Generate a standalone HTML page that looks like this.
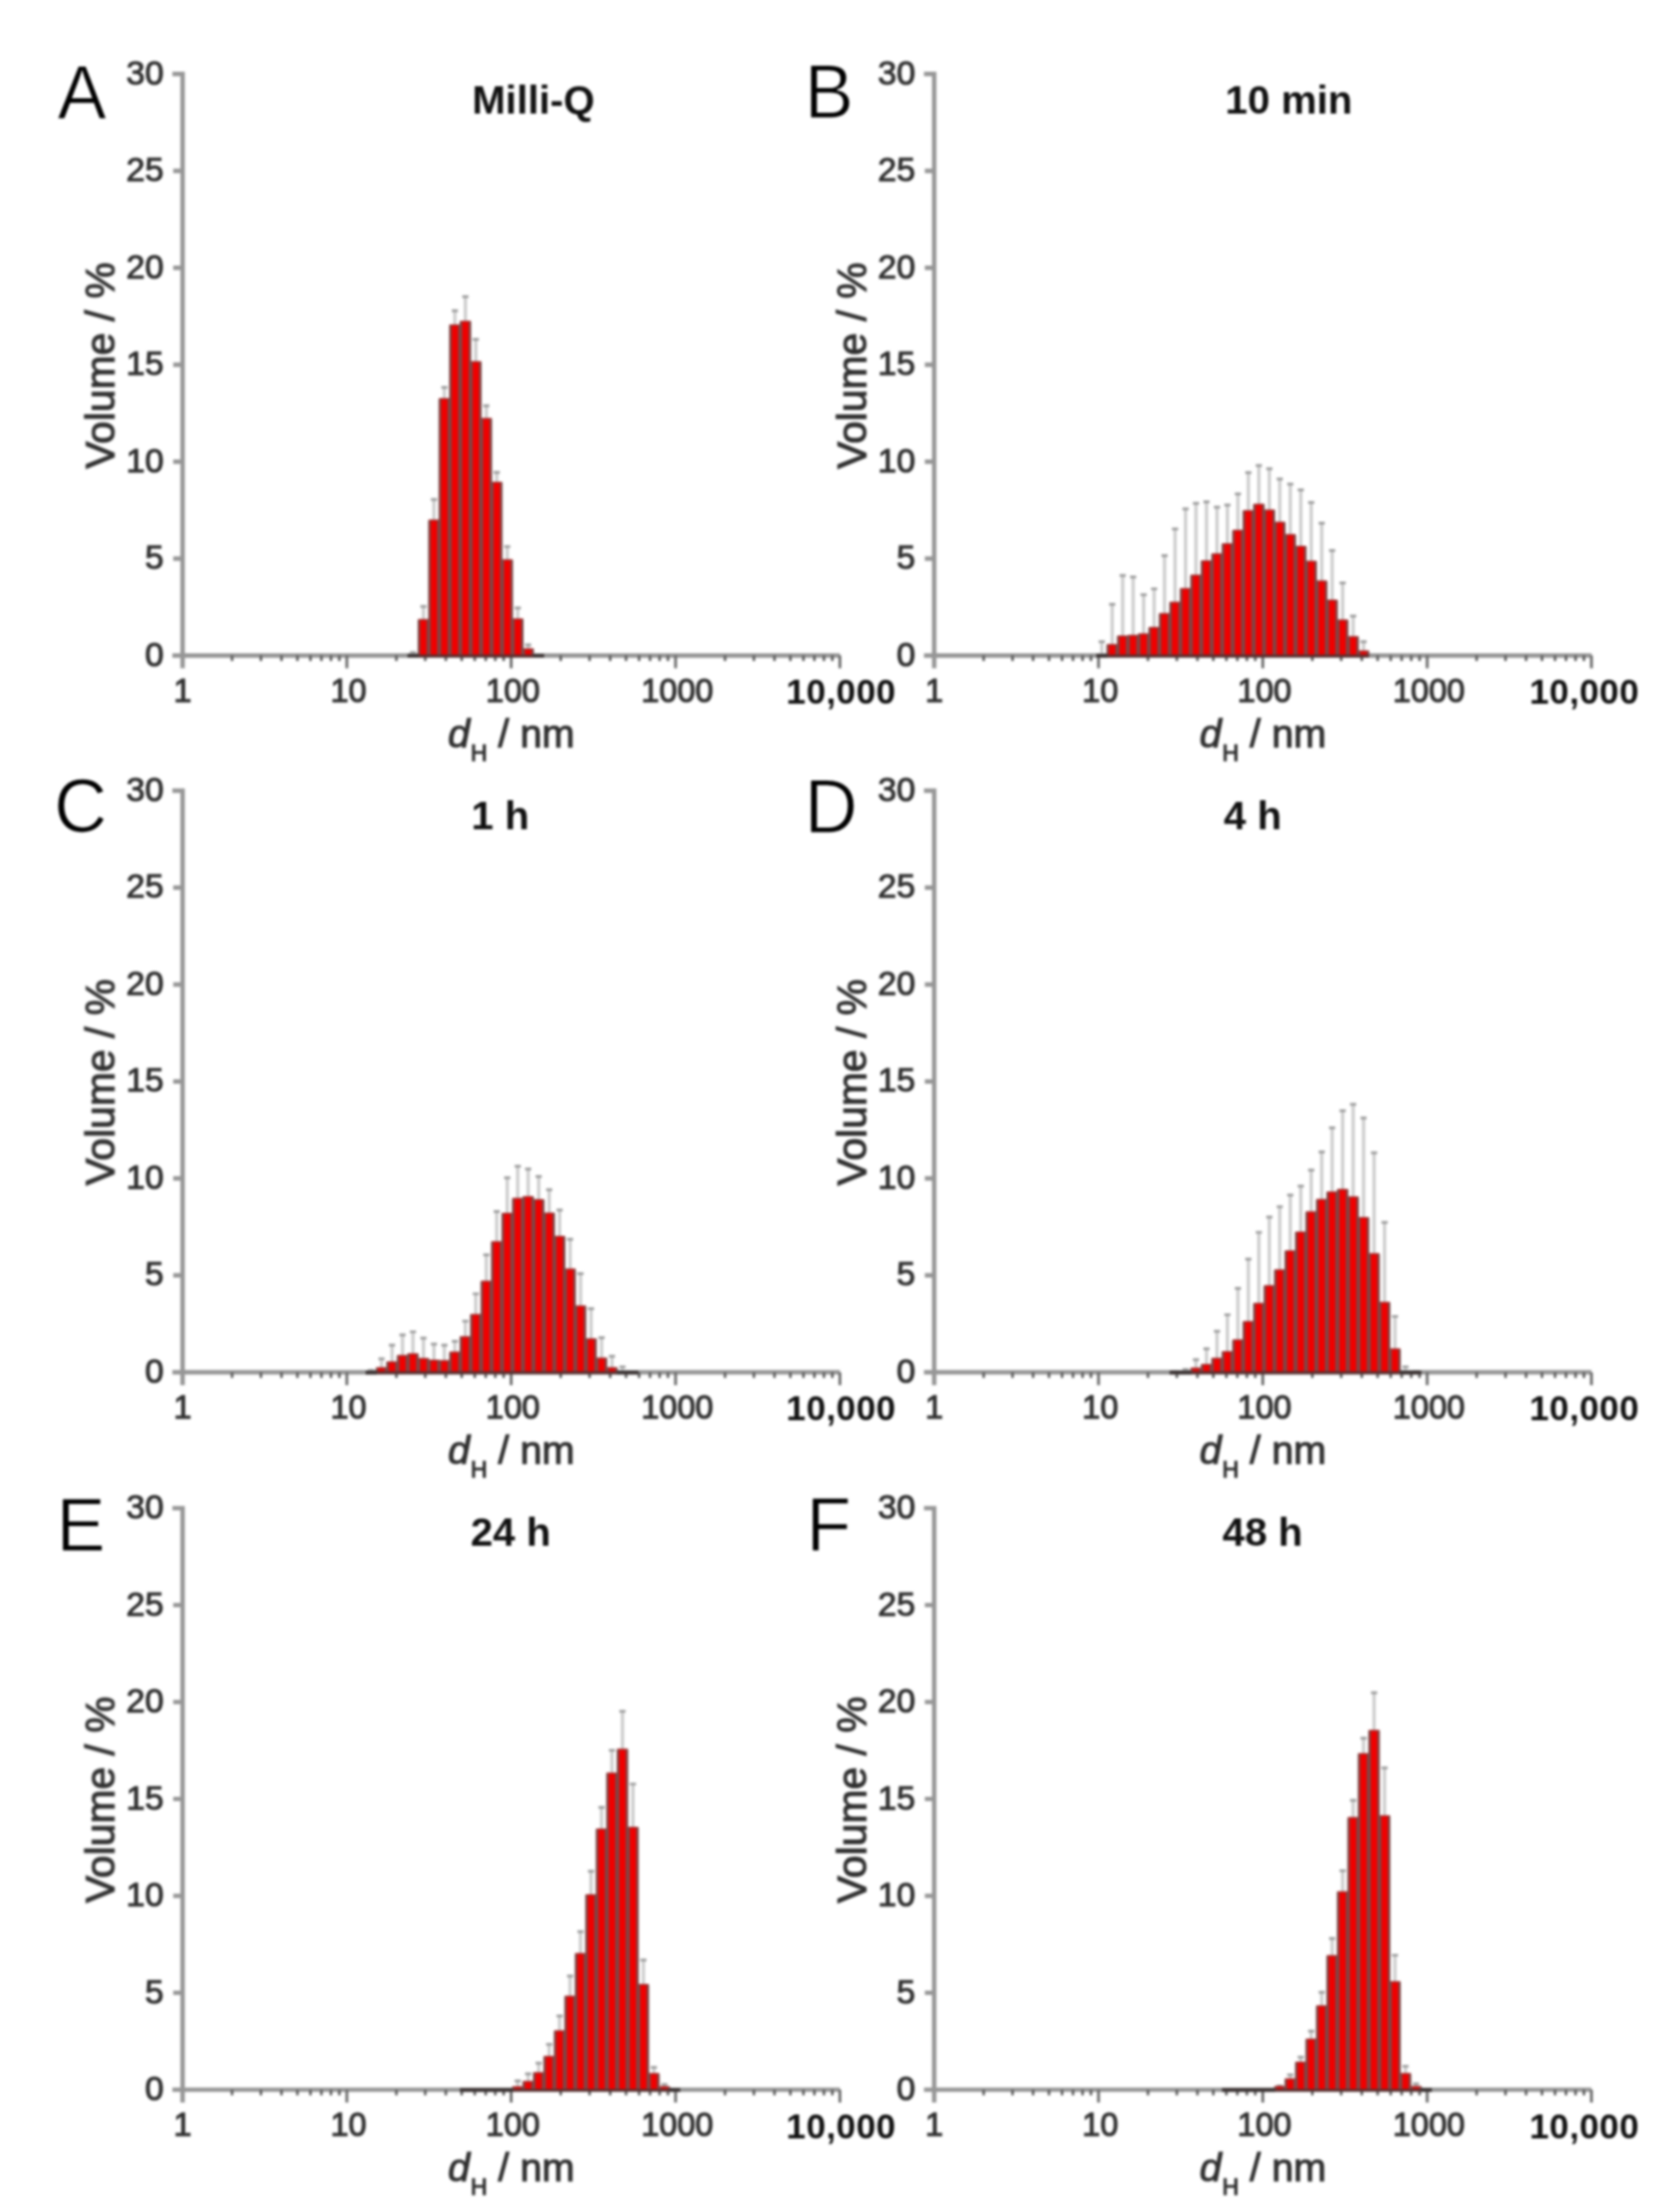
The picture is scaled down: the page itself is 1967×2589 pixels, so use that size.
<!DOCTYPE html>
<html><head><meta charset="utf-8"><title>DLS volume distributions</title>
<style>
html,body{margin:0;padding:0;background:#fff;}
body{width:1967px;height:2589px;overflow:hidden;}
svg{display:block;}
.blur{filter:blur(1.5px);}
text{stroke-width:1.2px;}
</style></head><body>
<svg width="1967" height="2589" viewBox="0 0 1967 2589" font-family="'Liberation Sans', Arial, sans-serif">
<g class="blur">
<g id="panelA">
<path d="M483.5 765.3V764.2M495.8 725.8V710.2M508.1 609.4V584.9M520.3 467.1V453.7M532.6 380.8V363.8M544.9 376.5V347.4M557.1 423.9V397.4M569.4 490.4V475.2M581.6 565.1V553.1M593.9 655.9V640.0M606.2 725.2V711.8M618.4 760.1V755.1" stroke="#cccccc" stroke-width="3.8" fill="none"/>
<path d="M479.9 764.2H487.1M492.2 710.2H499.4M504.5 584.9H511.7M516.7 453.7H523.9M529.0 363.8H536.2M541.3 347.4H548.5M553.5 397.4H560.7M565.8 475.2H573.0M578.0 553.1H585.2M590.3 640.0H597.5M602.6 711.8H609.8M614.8 755.1H622.0" stroke="#9e9e9e" stroke-width="3.2" fill="none"/>
<path d="M201.8 86.6H213.8V782.6M201.8 767.6H983.4M202.8 654.1H213.8M202.8 540.6H213.8M202.8 427.1H213.8M202.8 313.6H213.8M202.8 200.1H213.8" stroke="#969696" stroke-width="5.2" fill="none"/>
<path d="M406.1 767.6V782.6M598.5 767.6V782.6M791.0 767.6V782.6M983.4 767.6V782.6" stroke="#686868" stroke-width="3.2" fill="none"/>
<path d="M271.7 767.6V774.1M305.5 767.6V774.1M329.6 767.6V774.1M348.2 767.6V774.1M363.5 767.6V774.1M376.3 767.6V774.1M387.5 767.6V774.1M397.3 767.6V774.1M464.1 767.6V774.1M497.9 767.6V774.1M522.0 767.6V774.1M540.6 767.6V774.1M555.9 767.6V774.1M568.7 767.6V774.1M579.9 767.6V774.1M589.7 767.6V774.1M656.5 767.6V774.1M690.3 767.6V774.1M714.4 767.6V774.1M733.0 767.6V774.1M748.3 767.6V774.1M761.1 767.6V774.1M772.3 767.6V774.1M782.1 767.6V774.1M848.9 767.6V774.1M882.7 767.6V774.1M906.8 767.6V774.1M925.4 767.6V774.1M940.7 767.6V774.1M953.5 767.6V774.1M964.7 767.6V774.1M974.5 767.6V774.1" stroke="#5a5a5a" stroke-width="3" fill="none"/>
<g fill="#f00000"><rect x="490.4" y="725.8" width="10.8" height="42.8"/><rect x="502.7" y="609.4" width="10.8" height="159.2"/><rect x="514.9" y="467.1" width="10.8" height="301.5"/><rect x="527.2" y="380.8" width="10.8" height="387.8"/><rect x="539.5" y="376.5" width="10.8" height="392.1"/><rect x="551.7" y="423.9" width="10.8" height="344.7"/><rect x="564.0" y="490.4" width="10.8" height="278.2"/><rect x="576.2" y="565.1" width="10.8" height="203.5"/><rect x="588.5" y="655.9" width="10.8" height="112.7"/><rect x="600.8" y="725.2" width="10.8" height="43.4"/><rect x="613.0" y="760.1" width="10.8" height="8.5"/></g>
<path d="M489.5 725.8H502.1M501.8 609.4H514.4M514.0 467.1H526.6M526.3 380.8H538.9M538.6 376.5H551.2M550.8 423.9H563.4M563.1 490.4H575.7M575.3 565.1H587.9M587.6 655.9H600.2M599.9 725.2H612.5M612.1 760.1H624.7" stroke="#a82020" stroke-width="2.2" fill="none" opacity="0.85"/>
<path d="M490.5 768.6V725.8M501.1 768.6V725.8M502.8 768.6V609.4M513.4 768.6V609.4M515.0 768.6V467.1M525.6 768.6V467.1M527.3 768.6V380.8M537.9 768.6V380.8M539.6 768.6V376.5M550.2 768.6V376.5M551.8 768.6V423.9M562.4 768.6V423.9M564.1 768.6V490.4M574.7 768.6V490.4M576.3 768.6V565.1M586.9 768.6V565.1M588.6 768.6V655.9M599.2 768.6V655.9M600.9 768.6V725.2M611.5 768.6V725.2M613.1 768.6V760.1M623.7 768.6V760.1" stroke="#7e4646" stroke-width="3" fill="none"/>
<path d="M489.4 768.2H502.2M501.7 768.2H514.5M513.9 768.2H526.7M526.2 768.2H539.0M538.5 768.2H551.3M550.7 768.2H563.5M563.0 768.2H575.8M575.2 768.2H588.0M587.5 768.2H600.3M599.8 768.2H612.6M612.0 768.2H624.8" stroke="#5a3030" stroke-width="3.4" fill="none"/>
<path d="M477.1 767.9H489.9M624.3 767.9H637.1" stroke="#3c3434" stroke-width="4.4" fill="none"/>
<text x="191.8" y="779.6" font-size="39.5" fill="#303030" stroke="#303030" text-anchor="end">0</text>
<text x="191.8" y="666.1" font-size="39.5" fill="#303030" stroke="#303030" text-anchor="end">5</text>
<text x="191.8" y="552.6" font-size="39.5" fill="#303030" stroke="#303030" text-anchor="end">10</text>
<text x="191.8" y="439.1" font-size="39.5" fill="#303030" stroke="#303030" text-anchor="end">15</text>
<text x="191.8" y="325.6" font-size="39.5" fill="#303030" stroke="#303030" text-anchor="end">20</text>
<text x="191.8" y="212.1" font-size="39.5" fill="#303030" stroke="#303030" text-anchor="end">25</text>
<text x="191.8" y="98.6" font-size="39.5" fill="#303030" stroke="#303030" text-anchor="end">30</text>
<text x="213.8" y="821.6" font-size="38" fill="#303030" stroke="#303030" text-anchor="middle">1</text>
<text x="408.1" y="821.6" font-size="38" fill="#303030" stroke="#303030" text-anchor="middle">10</text>
<text x="600.5" y="821.6" font-size="38" fill="#303030" stroke="#303030" text-anchor="middle">100</text>
<text x="793.0" y="821.6" font-size="38" fill="#303030" stroke="#303030" text-anchor="middle">1000</text>
<text x="984.8" y="824.1" font-size="41" letter-spacing="0.5" font-weight="bold" fill="#111" text-anchor="middle">10,000</text>
<text x="524.5" y="874.6" font-size="46" fill="#303030" stroke="#303030"><tspan font-style="italic">d</tspan><tspan font-size="27" dy="16" dx="1">H</tspan><tspan dy="-16"> / nm</tspan></text>
<text transform="translate(133.8 428.1) rotate(-90)" font-size="47.8" fill="#303030" stroke="#303030" text-anchor="middle">Volume / %</text>
<text x="624.5" y="133.3" font-size="47" font-weight="bold" fill="#111" text-anchor="middle">Milli-Q</text>
<text class="let" transform="translate(67.3 138.6) scale(0.968 1)" font-size="89" fill="#000" stroke="#fff" stroke-width="1">A</text>
</g>
<g id="panelB">
<path d="M1290.0 765.3V751.3M1302.2 755.1V707.7M1314.5 745.1V673.8M1326.7 744.4V675.7M1339.0 742.6V696.3M1351.3 735.1V689.5M1363.5 718.8V650.7M1375.8 705.6V619.4M1388.1 689.5V595.8M1400.3 673.8V589.4M1412.6 657.1V587.6M1424.9 648.9V593.9M1437.1 637.1V591.4M1449.4 621.4V578.3M1461.6 598.3V553.3M1473.9 590.8V545.1M1486.2 597.6V548.8M1498.4 611.9V560.8M1510.7 626.4V566.9M1523.0 640.0V573.7M1535.2 657.5V588.3M1547.5 680.7V612.6M1559.7 703.1V644.6M1572.0 726.3V682.7M1584.3 745.8V721.3M1596.5 762.6V751.3" stroke="#cccccc" stroke-width="3.8" fill="none"/>
<path d="M1286.4 751.3H1293.6M1298.6 707.7H1305.8M1310.9 673.8H1318.1M1323.1 675.7H1330.3M1335.4 696.3H1342.6M1347.7 689.5H1354.9M1359.9 650.7H1367.1M1372.2 619.4H1379.4M1384.5 595.8H1391.7M1396.7 589.4H1403.9M1409.0 587.6H1416.2M1421.3 593.9H1428.5M1433.5 591.4H1440.7M1445.8 578.3H1453.0M1458.0 553.3H1465.2M1470.3 545.1H1477.5M1482.6 548.8H1489.8M1494.8 560.8H1502.0M1507.1 566.9H1514.3M1519.4 573.7H1526.6M1531.6 588.3H1538.8M1543.9 612.6H1551.1M1556.1 644.6H1563.3M1568.4 682.7H1575.6M1580.7 721.3H1587.9M1592.9 751.3H1600.1" stroke="#9e9e9e" stroke-width="3.2" fill="none"/>
<path d="M1081.8 86.6H1093.8V782.6M1081.8 767.6H1863.3M1082.8 654.1H1093.8M1082.8 540.6H1093.8M1082.8 427.1H1093.8M1082.8 313.6H1093.8M1082.8 200.1H1093.8" stroke="#969696" stroke-width="5.2" fill="none"/>
<path d="M1286.2 767.6V782.6M1478.5 767.6V782.6M1671.0 767.6V782.6M1863.3 767.6V782.6" stroke="#686868" stroke-width="3.2" fill="none"/>
<path d="M1151.7 767.6V774.1M1185.5 767.6V774.1M1209.6 767.6V774.1M1228.2 767.6V774.1M1243.5 767.6V774.1M1256.3 767.6V774.1M1267.5 767.6V774.1M1277.3 767.6V774.1M1344.1 767.6V774.1M1377.9 767.6V774.1M1402.0 767.6V774.1M1420.6 767.6V774.1M1435.9 767.6V774.1M1448.7 767.6V774.1M1459.9 767.6V774.1M1469.7 767.6V774.1M1536.5 767.6V774.1M1570.3 767.6V774.1M1594.4 767.6V774.1M1613.0 767.6V774.1M1628.3 767.6V774.1M1641.1 767.6V774.1M1652.3 767.6V774.1M1662.1 767.6V774.1M1728.9 767.6V774.1M1762.7 767.6V774.1M1786.8 767.6V774.1M1805.4 767.6V774.1M1820.7 767.6V774.1M1833.5 767.6V774.1M1844.7 767.6V774.1M1854.5 767.6V774.1" stroke="#5a5a5a" stroke-width="3" fill="none"/>
<g fill="#f00000"><rect x="1296.8" y="755.1" width="10.8" height="13.5"/><rect x="1309.1" y="745.1" width="10.8" height="23.5"/><rect x="1321.3" y="744.4" width="10.8" height="24.2"/><rect x="1333.6" y="742.6" width="10.8" height="26.0"/><rect x="1345.9" y="735.1" width="10.8" height="33.5"/><rect x="1358.1" y="718.8" width="10.8" height="49.8"/><rect x="1370.4" y="705.6" width="10.8" height="63.0"/><rect x="1382.7" y="689.5" width="10.8" height="79.1"/><rect x="1394.9" y="673.8" width="10.8" height="94.8"/><rect x="1407.2" y="657.1" width="10.8" height="111.5"/><rect x="1419.5" y="648.9" width="10.8" height="119.7"/><rect x="1431.7" y="637.1" width="10.8" height="131.5"/><rect x="1444.0" y="621.4" width="10.8" height="147.2"/><rect x="1456.2" y="598.3" width="10.8" height="170.3"/><rect x="1468.5" y="590.8" width="10.8" height="177.8"/><rect x="1480.8" y="597.6" width="10.8" height="171.0"/><rect x="1493.0" y="611.9" width="10.8" height="156.7"/><rect x="1505.3" y="626.4" width="10.8" height="142.2"/><rect x="1517.6" y="640.0" width="10.8" height="128.6"/><rect x="1529.8" y="657.5" width="10.8" height="111.1"/><rect x="1542.1" y="680.7" width="10.8" height="87.9"/><rect x="1554.3" y="703.1" width="10.8" height="65.5"/><rect x="1566.6" y="726.3" width="10.8" height="42.3"/><rect x="1578.9" y="745.8" width="10.8" height="22.8"/><rect x="1591.1" y="762.6" width="10.8" height="6.0"/></g>
<path d="M1295.9 755.1H1308.5M1308.2 745.1H1320.8M1320.4 744.4H1333.0M1332.7 742.6H1345.3M1345.0 735.1H1357.6M1357.2 718.8H1369.8M1369.5 705.6H1382.1M1381.8 689.5H1394.4M1394.0 673.8H1406.6M1406.3 657.1H1418.9M1418.6 648.9H1431.2M1430.8 637.1H1443.4M1443.1 621.4H1455.7M1455.3 598.3H1467.9M1467.6 590.8H1480.2M1479.9 597.6H1492.5M1492.1 611.9H1504.7M1504.4 626.4H1517.0M1516.7 640.0H1529.3M1528.9 657.5H1541.5M1541.2 680.7H1553.8M1553.4 703.1H1566.0M1565.7 726.3H1578.3M1578.0 745.8H1590.6M1590.2 762.6H1602.8" stroke="#a82020" stroke-width="2.2" fill="none" opacity="0.85"/>
<path d="M1296.9 768.6V755.1M1307.5 768.6V755.1M1309.2 768.6V745.1M1319.8 768.6V745.1M1321.4 768.6V744.4M1332.0 768.6V744.4M1333.7 768.6V742.6M1344.3 768.6V742.6M1346.0 768.6V735.1M1356.6 768.6V735.1M1358.2 768.6V718.8M1368.8 768.6V718.8M1370.5 768.6V705.6M1381.1 768.6V705.6M1382.8 768.6V689.5M1393.4 768.6V689.5M1395.0 768.6V673.8M1405.6 768.6V673.8M1407.3 768.6V657.1M1417.9 768.6V657.1M1419.6 768.6V648.9M1430.2 768.6V648.9M1431.8 768.6V637.1M1442.4 768.6V637.1M1444.1 768.6V621.4M1454.7 768.6V621.4M1456.3 768.6V598.3M1466.9 768.6V598.3M1468.6 768.6V590.8M1479.2 768.6V590.8M1480.9 768.6V597.6M1491.5 768.6V597.6M1493.1 768.6V611.9M1503.7 768.6V611.9M1505.4 768.6V626.4M1516.0 768.6V626.4M1517.7 768.6V640.0M1528.3 768.6V640.0M1529.9 768.6V657.5M1540.5 768.6V657.5M1542.2 768.6V680.7M1552.8 768.6V680.7M1554.4 768.6V703.1M1565.0 768.6V703.1M1566.7 768.6V726.3M1577.3 768.6V726.3M1579.0 768.6V745.8M1589.6 768.6V745.8M1591.2 768.6V762.6M1601.8 768.6V762.6" stroke="#7e4646" stroke-width="3" fill="none"/>
<path d="M1295.8 768.2H1308.6M1308.1 768.2H1320.9M1320.3 768.2H1333.1M1332.6 768.2H1345.4M1344.9 768.2H1357.7M1357.1 768.2H1369.9M1369.4 768.2H1382.2M1381.7 768.2H1394.5M1393.9 768.2H1406.7M1406.2 768.2H1419.0M1418.5 768.2H1431.3M1430.7 768.2H1443.5M1443.0 768.2H1455.8M1455.2 768.2H1468.0M1467.5 768.2H1480.3M1479.8 768.2H1492.6M1492.0 768.2H1504.8M1504.3 768.2H1517.1M1516.6 768.2H1529.4M1528.8 768.2H1541.6M1541.1 768.2H1553.9M1553.3 768.2H1566.1M1565.6 768.2H1578.4M1577.9 768.2H1590.7M1590.1 768.2H1602.9" stroke="#5a3030" stroke-width="3.4" fill="none"/>
<path d="M1283.6 767.9H1296.4" stroke="#3c3434" stroke-width="4.4" fill="none"/>
<text x="1071.8" y="779.6" font-size="39.5" fill="#303030" stroke="#303030" text-anchor="end">0</text>
<text x="1071.8" y="666.1" font-size="39.5" fill="#303030" stroke="#303030" text-anchor="end">5</text>
<text x="1071.8" y="552.6" font-size="39.5" fill="#303030" stroke="#303030" text-anchor="end">10</text>
<text x="1071.8" y="439.1" font-size="39.5" fill="#303030" stroke="#303030" text-anchor="end">15</text>
<text x="1071.8" y="325.6" font-size="39.5" fill="#303030" stroke="#303030" text-anchor="end">20</text>
<text x="1071.8" y="212.1" font-size="39.5" fill="#303030" stroke="#303030" text-anchor="end">25</text>
<text x="1071.8" y="98.6" font-size="39.5" fill="#303030" stroke="#303030" text-anchor="end">30</text>
<text x="1093.8" y="821.6" font-size="38" fill="#303030" stroke="#303030" text-anchor="middle">1</text>
<text x="1288.2" y="821.6" font-size="38" fill="#303030" stroke="#303030" text-anchor="middle">10</text>
<text x="1480.5" y="821.6" font-size="38" fill="#303030" stroke="#303030" text-anchor="middle">100</text>
<text x="1673.0" y="821.6" font-size="38" fill="#303030" stroke="#303030" text-anchor="middle">1000</text>
<text x="1855.0" y="824.1" font-size="41" letter-spacing="0.5" font-weight="bold" fill="#111" text-anchor="middle">10,000</text>
<text x="1404.5" y="874.6" font-size="46" fill="#303030" stroke="#303030"><tspan font-style="italic">d</tspan><tspan font-size="27" dy="16" dx="1">H</tspan><tspan dy="-16"> / nm</tspan></text>
<text transform="translate(1013.8 428.1) rotate(-90)" font-size="47.8" fill="#303030" stroke="#303030" text-anchor="middle">Volume / %</text>
<text x="1509.0" y="133.3" font-size="47" font-weight="bold" fill="#111" text-anchor="middle">10 min</text>
<text class="let" transform="translate(942.0 137.6) scale(0.968 1)" font-size="89" fill="#000" stroke="#fff" stroke-width="1">B</text>
</g>
<g id="panelC">
<path d="M434.5 1605.8V1604.6M446.7 1601.9V1591.2M459.0 1595.1V1575.1M471.3 1587.6V1563.1M483.5 1585.6V1559.5M495.8 1591.2V1566.9M508.1 1593.1V1573.8M520.3 1593.7V1575.1M532.6 1583.7V1570.6M544.9 1565.6V1547.0M557.1 1539.5V1515.0M569.4 1500.7V1469.3M581.6 1454.4V1418.7M593.9 1421.2V1379.2M606.2 1403.7V1365.6M618.4 1401.5V1368.8M630.7 1405.1V1377.6M643.0 1420.8V1393.1M655.2 1448.2V1416.9M667.5 1486.4V1451.2M679.7 1529.5V1491.4M692.0 1568.1V1532.4M704.3 1590.6V1566.3M716.5 1601.9V1588.1M728.8 1605.8V1600.5" stroke="#cccccc" stroke-width="3.8" fill="none"/>
<path d="M430.9 1604.6H438.1M443.1 1591.2H450.3M455.4 1575.1H462.6M467.7 1563.1H474.9M479.9 1559.5H487.1M492.2 1566.9H499.4M504.5 1573.8H511.7M516.7 1575.1H523.9M529.0 1570.6H536.2M541.3 1547.0H548.5M553.5 1515.0H560.7M565.8 1469.3H573.0M578.0 1418.7H585.2M590.3 1379.2H597.5M602.6 1365.6H609.8M614.8 1368.8H622.0M627.1 1377.6H634.3M639.4 1393.1H646.6M651.6 1416.9H658.8M663.9 1451.2H671.1M676.1 1491.4H683.3M688.4 1532.4H695.6M700.7 1566.3H707.9M712.9 1588.1H720.1M725.2 1600.5H732.4" stroke="#9e9e9e" stroke-width="3.2" fill="none"/>
<path d="M201.8 925.9H213.8V1621.9M201.8 1606.9H983.4M202.8 1493.4H213.8M202.8 1379.9H213.8M202.8 1266.4H213.8M202.8 1152.9H213.8M202.8 1039.4H213.8" stroke="#969696" stroke-width="5.2" fill="none"/>
<path d="M406.1 1606.9V1621.9M598.5 1606.9V1621.9M791.0 1606.9V1621.9M983.4 1606.9V1621.9" stroke="#686868" stroke-width="3.2" fill="none"/>
<path d="M271.7 1606.9V1613.4M305.5 1606.9V1613.4M329.6 1606.9V1613.4M348.2 1606.9V1613.4M363.5 1606.9V1613.4M376.3 1606.9V1613.4M387.5 1606.9V1613.4M397.3 1606.9V1613.4M464.1 1606.9V1613.4M497.9 1606.9V1613.4M522.0 1606.9V1613.4M540.6 1606.9V1613.4M555.9 1606.9V1613.4M568.7 1606.9V1613.4M579.9 1606.9V1613.4M589.7 1606.9V1613.4M656.5 1606.9V1613.4M690.3 1606.9V1613.4M714.4 1606.9V1613.4M733.0 1606.9V1613.4M748.3 1606.9V1613.4M761.1 1606.9V1613.4M772.3 1606.9V1613.4M782.1 1606.9V1613.4M848.9 1606.9V1613.4M882.7 1606.9V1613.4M906.8 1606.9V1613.4M925.4 1606.9V1613.4M940.7 1606.9V1613.4M953.5 1606.9V1613.4M964.7 1606.9V1613.4M974.5 1606.9V1613.4" stroke="#5a5a5a" stroke-width="3" fill="none"/>
<g fill="#f00000"><rect x="441.3" y="1601.9" width="10.8" height="6.0"/><rect x="453.6" y="1595.1" width="10.8" height="12.8"/><rect x="465.9" y="1587.6" width="10.8" height="20.3"/><rect x="478.1" y="1585.6" width="10.8" height="22.3"/><rect x="490.4" y="1591.2" width="10.8" height="16.7"/><rect x="502.7" y="1593.1" width="10.8" height="14.8"/><rect x="514.9" y="1593.7" width="10.8" height="14.2"/><rect x="527.2" y="1583.7" width="10.8" height="24.2"/><rect x="539.5" y="1565.6" width="10.8" height="42.3"/><rect x="551.7" y="1539.5" width="10.8" height="68.4"/><rect x="564.0" y="1500.7" width="10.8" height="107.2"/><rect x="576.2" y="1454.4" width="10.8" height="153.5"/><rect x="588.5" y="1421.2" width="10.8" height="186.7"/><rect x="600.8" y="1403.7" width="10.8" height="204.2"/><rect x="613.0" y="1401.5" width="10.8" height="206.4"/><rect x="625.3" y="1405.1" width="10.8" height="202.8"/><rect x="637.6" y="1420.8" width="10.8" height="187.1"/><rect x="649.8" y="1448.2" width="10.8" height="159.7"/><rect x="662.1" y="1486.4" width="10.8" height="121.5"/><rect x="674.3" y="1529.5" width="10.8" height="78.4"/><rect x="686.6" y="1568.1" width="10.8" height="39.8"/><rect x="698.9" y="1590.6" width="10.8" height="17.3"/><rect x="711.1" y="1601.9" width="10.8" height="6.0"/></g>
<path d="M440.4 1601.9H453.0M452.7 1595.1H465.3M465.0 1587.6H477.6M477.2 1585.6H489.8M489.5 1591.2H502.1M501.8 1593.1H514.4M514.0 1593.7H526.6M526.3 1583.7H538.9M538.6 1565.6H551.2M550.8 1539.5H563.4M563.1 1500.7H575.7M575.3 1454.4H587.9M587.6 1421.2H600.2M599.9 1403.7H612.5M612.1 1401.5H624.7M624.4 1405.1H637.0M636.7 1420.8H649.3M648.9 1448.2H661.5M661.2 1486.4H673.8M673.4 1529.5H686.0M685.7 1568.1H698.3M698.0 1590.6H710.6M710.2 1601.9H722.8" stroke="#a82020" stroke-width="2.2" fill="none" opacity="0.85"/>
<path d="M441.4 1607.9V1601.9M452.0 1607.9V1601.9M453.7 1607.9V1595.1M464.3 1607.9V1595.1M466.0 1607.9V1587.6M476.6 1607.9V1587.6M478.2 1607.9V1585.6M488.8 1607.9V1585.6M490.5 1607.9V1591.2M501.1 1607.9V1591.2M502.8 1607.9V1593.1M513.4 1607.9V1593.1M515.0 1607.9V1593.7M525.6 1607.9V1593.7M527.3 1607.9V1583.7M537.9 1607.9V1583.7M539.6 1607.9V1565.6M550.2 1607.9V1565.6M551.8 1607.9V1539.5M562.4 1607.9V1539.5M564.1 1607.9V1500.7M574.7 1607.9V1500.7M576.3 1607.9V1454.4M586.9 1607.9V1454.4M588.6 1607.9V1421.2M599.2 1607.9V1421.2M600.9 1607.9V1403.7M611.5 1607.9V1403.7M613.1 1607.9V1401.5M623.7 1607.9V1401.5M625.4 1607.9V1405.1M636.0 1607.9V1405.1M637.7 1607.9V1420.8M648.3 1607.9V1420.8M649.9 1607.9V1448.2M660.5 1607.9V1448.2M662.2 1607.9V1486.4M672.8 1607.9V1486.4M674.4 1607.9V1529.5M685.0 1607.9V1529.5M686.7 1607.9V1568.1M697.3 1607.9V1568.1M699.0 1607.9V1590.6M709.6 1607.9V1590.6M711.2 1607.9V1601.9M721.8 1607.9V1601.9" stroke="#7e4646" stroke-width="3" fill="none"/>
<path d="M440.3 1607.5H453.1M452.6 1607.5H465.4M464.9 1607.5H477.7M477.1 1607.5H489.9M489.4 1607.5H502.2M501.7 1607.5H514.5M513.9 1607.5H526.7M526.2 1607.5H539.0M538.5 1607.5H551.3M550.7 1607.5H563.5M563.0 1607.5H575.8M575.2 1607.5H588.0M587.5 1607.5H600.3M599.8 1607.5H612.6M612.0 1607.5H624.8M624.3 1607.5H637.1M636.6 1607.5H649.4M648.8 1607.5H661.6M661.1 1607.5H673.9M673.3 1607.5H686.1M685.6 1607.5H698.4M697.9 1607.5H710.7M710.1 1607.5H722.9" stroke="#5a3030" stroke-width="3.4" fill="none"/>
<path d="M428.1 1607.2H440.9M722.4 1607.2H735.2M734.7 1607.2H747.5" stroke="#3c3434" stroke-width="4.4" fill="none"/>
<text x="191.8" y="1618.9" font-size="39.5" fill="#303030" stroke="#303030" text-anchor="end">0</text>
<text x="191.8" y="1505.4" font-size="39.5" fill="#303030" stroke="#303030" text-anchor="end">5</text>
<text x="191.8" y="1391.9" font-size="39.5" fill="#303030" stroke="#303030" text-anchor="end">10</text>
<text x="191.8" y="1278.4" font-size="39.5" fill="#303030" stroke="#303030" text-anchor="end">15</text>
<text x="191.8" y="1164.9" font-size="39.5" fill="#303030" stroke="#303030" text-anchor="end">20</text>
<text x="191.8" y="1051.4" font-size="39.5" fill="#303030" stroke="#303030" text-anchor="end">25</text>
<text x="191.8" y="937.9" font-size="39.5" fill="#303030" stroke="#303030" text-anchor="end">30</text>
<text x="213.8" y="1660.9" font-size="38" fill="#303030" stroke="#303030" text-anchor="middle">1</text>
<text x="408.1" y="1660.9" font-size="38" fill="#303030" stroke="#303030" text-anchor="middle">10</text>
<text x="600.5" y="1660.9" font-size="38" fill="#303030" stroke="#303030" text-anchor="middle">100</text>
<text x="793.0" y="1660.9" font-size="38" fill="#303030" stroke="#303030" text-anchor="middle">1000</text>
<text x="984.8" y="1663.4" font-size="41" letter-spacing="0.5" font-weight="bold" fill="#111" text-anchor="middle">10,000</text>
<text x="524.5" y="1713.9" font-size="46" fill="#303030" stroke="#303030"><tspan font-style="italic">d</tspan><tspan font-size="27" dy="16" dx="1">H</tspan><tspan dy="-16"> / nm</tspan></text>
<text transform="translate(133.8 1267.4) rotate(-90)" font-size="47.8" fill="#303030" stroke="#303030" text-anchor="middle">Volume / %</text>
<text x="585.8" y="970.9" font-size="47" font-weight="bold" fill="#111" text-anchor="middle">1 h</text>
<text class="let" transform="translate(63.2 974.4) scale(0.968 1)" font-size="89" fill="#000" stroke="#fff" stroke-width="1">C</text>
</g>
<g id="panelD">
<path d="M1375.8 1606.2V1605.8M1388.1 1605.1V1603.5M1400.3 1602.4V1592.1M1412.6 1598.0V1579.4M1424.9 1590.8V1558.8M1437.1 1583.1V1539.5M1449.4 1569.4V1508.6M1461.6 1547.9V1474.3M1473.9 1526.5V1443.0M1486.2 1505.9V1425.1M1498.4 1487.3V1413.0M1510.7 1465.0V1399.4M1523.0 1443.0V1388.8M1535.2 1419.4V1370.1M1547.5 1404.9V1348.8M1559.7 1396.2V1320.7M1572.0 1393.1V1300.7M1584.3 1401.9V1293.2M1596.5 1426.0V1309.1M1608.8 1468.4V1349.9M1621.1 1525.4V1431.4M1633.3 1579.9V1541.5M1645.6 1604.9V1600.5M1657.9 1606.2V1605.5" stroke="#cccccc" stroke-width="3.8" fill="none"/>
<path d="M1372.2 1605.8H1379.4M1384.5 1603.5H1391.7M1396.7 1592.1H1403.9M1409.0 1579.4H1416.2M1421.3 1558.8H1428.5M1433.5 1539.5H1440.7M1445.8 1508.6H1453.0M1458.0 1474.3H1465.2M1470.3 1443.0H1477.5M1482.6 1425.1H1489.8M1494.8 1413.0H1502.0M1507.1 1399.4H1514.3M1519.4 1388.8H1526.6M1531.6 1370.1H1538.8M1543.9 1348.8H1551.1M1556.1 1320.7H1563.3M1568.4 1300.7H1575.6M1580.7 1293.2H1587.9M1592.9 1309.1H1600.1M1605.2 1349.9H1612.4M1617.5 1431.4H1624.7M1629.7 1541.5H1636.9M1642.0 1600.5H1649.2M1654.3 1605.5H1661.5" stroke="#9e9e9e" stroke-width="3.2" fill="none"/>
<path d="M1081.8 925.9H1093.8V1621.9M1081.8 1606.9H1863.3M1082.8 1493.4H1093.8M1082.8 1379.9H1093.8M1082.8 1266.4H1093.8M1082.8 1152.9H1093.8M1082.8 1039.4H1093.8" stroke="#969696" stroke-width="5.2" fill="none"/>
<path d="M1286.2 1606.9V1621.9M1478.5 1606.9V1621.9M1671.0 1606.9V1621.9M1863.3 1606.9V1621.9" stroke="#686868" stroke-width="3.2" fill="none"/>
<path d="M1151.7 1606.9V1613.4M1185.5 1606.9V1613.4M1209.6 1606.9V1613.4M1228.2 1606.9V1613.4M1243.5 1606.9V1613.4M1256.3 1606.9V1613.4M1267.5 1606.9V1613.4M1277.3 1606.9V1613.4M1344.1 1606.9V1613.4M1377.9 1606.9V1613.4M1402.0 1606.9V1613.4M1420.6 1606.9V1613.4M1435.9 1606.9V1613.4M1448.7 1606.9V1613.4M1459.9 1606.9V1613.4M1469.7 1606.9V1613.4M1536.5 1606.9V1613.4M1570.3 1606.9V1613.4M1594.4 1606.9V1613.4M1613.0 1606.9V1613.4M1628.3 1606.9V1613.4M1641.1 1606.9V1613.4M1652.3 1606.9V1613.4M1662.1 1606.9V1613.4M1728.9 1606.9V1613.4M1762.7 1606.9V1613.4M1786.8 1606.9V1613.4M1805.4 1606.9V1613.4M1820.7 1606.9V1613.4M1833.5 1606.9V1613.4M1844.7 1606.9V1613.4M1854.5 1606.9V1613.4" stroke="#5a5a5a" stroke-width="3" fill="none"/>
<g fill="#f00000"><rect x="1394.9" y="1602.4" width="10.8" height="5.5"/><rect x="1407.2" y="1598.0" width="10.8" height="9.9"/><rect x="1419.5" y="1590.8" width="10.8" height="17.1"/><rect x="1431.7" y="1583.1" width="10.8" height="24.8"/><rect x="1444.0" y="1569.4" width="10.8" height="38.5"/><rect x="1456.2" y="1547.9" width="10.8" height="60.0"/><rect x="1468.5" y="1526.5" width="10.8" height="81.4"/><rect x="1480.8" y="1505.9" width="10.8" height="102.0"/><rect x="1493.0" y="1487.3" width="10.8" height="120.6"/><rect x="1505.3" y="1465.0" width="10.8" height="142.9"/><rect x="1517.6" y="1443.0" width="10.8" height="164.9"/><rect x="1529.8" y="1419.4" width="10.8" height="188.5"/><rect x="1542.1" y="1404.9" width="10.8" height="203.0"/><rect x="1554.3" y="1396.2" width="10.8" height="211.7"/><rect x="1566.6" y="1393.1" width="10.8" height="214.8"/><rect x="1578.9" y="1401.9" width="10.8" height="206.0"/><rect x="1591.1" y="1426.0" width="10.8" height="181.9"/><rect x="1603.4" y="1468.4" width="10.8" height="139.5"/><rect x="1615.7" y="1525.4" width="10.8" height="82.5"/><rect x="1627.9" y="1579.9" width="10.8" height="28.0"/></g>
<path d="M1394.0 1602.4H1406.6M1406.3 1598.0H1418.9M1418.6 1590.8H1431.2M1430.8 1583.1H1443.4M1443.1 1569.4H1455.7M1455.3 1547.9H1467.9M1467.6 1526.5H1480.2M1479.9 1505.9H1492.5M1492.1 1487.3H1504.7M1504.4 1465.0H1517.0M1516.7 1443.0H1529.3M1528.9 1419.4H1541.5M1541.2 1404.9H1553.8M1553.4 1396.2H1566.0M1565.7 1393.1H1578.3M1578.0 1401.9H1590.6M1590.2 1426.0H1602.8M1602.5 1468.4H1615.1M1614.8 1525.4H1627.4M1627.0 1579.9H1639.6" stroke="#a82020" stroke-width="2.2" fill="none" opacity="0.85"/>
<path d="M1395.0 1607.9V1602.4M1405.6 1607.9V1602.4M1407.3 1607.9V1598.0M1417.9 1607.9V1598.0M1419.6 1607.9V1590.8M1430.2 1607.9V1590.8M1431.8 1607.9V1583.1M1442.4 1607.9V1583.1M1444.1 1607.9V1569.4M1454.7 1607.9V1569.4M1456.3 1607.9V1547.9M1466.9 1607.9V1547.9M1468.6 1607.9V1526.5M1479.2 1607.9V1526.5M1480.9 1607.9V1505.9M1491.5 1607.9V1505.9M1493.1 1607.9V1487.3M1503.7 1607.9V1487.3M1505.4 1607.9V1465.0M1516.0 1607.9V1465.0M1517.7 1607.9V1443.0M1528.3 1607.9V1443.0M1529.9 1607.9V1419.4M1540.5 1607.9V1419.4M1542.2 1607.9V1404.9M1552.8 1607.9V1404.9M1554.4 1607.9V1396.2M1565.0 1607.9V1396.2M1566.7 1607.9V1393.1M1577.3 1607.9V1393.1M1579.0 1607.9V1401.9M1589.6 1607.9V1401.9M1591.2 1607.9V1426.0M1601.8 1607.9V1426.0M1603.5 1607.9V1468.4M1614.1 1607.9V1468.4M1615.8 1607.9V1525.4M1626.4 1607.9V1525.4M1628.0 1607.9V1579.9M1638.6 1607.9V1579.9" stroke="#7e4646" stroke-width="3" fill="none"/>
<path d="M1393.9 1607.5H1406.7M1406.2 1607.5H1419.0M1418.5 1607.5H1431.3M1430.7 1607.5H1443.5M1443.0 1607.5H1455.8M1455.2 1607.5H1468.0M1467.5 1607.5H1480.3M1479.8 1607.5H1492.6M1492.0 1607.5H1504.8M1504.3 1607.5H1517.1M1516.6 1607.5H1529.4M1528.8 1607.5H1541.6M1541.1 1607.5H1553.9M1553.3 1607.5H1566.1M1565.6 1607.5H1578.4M1577.9 1607.5H1590.7M1590.1 1607.5H1602.9M1602.4 1607.5H1615.2M1614.7 1607.5H1627.5M1626.9 1607.5H1639.7" stroke="#5a3030" stroke-width="3.4" fill="none"/>
<path d="M1369.4 1607.2H1382.2M1381.7 1607.2H1394.5M1639.2 1607.2H1652.0M1651.5 1607.2H1664.3" stroke="#3c3434" stroke-width="4.4" fill="none"/>
<text x="1071.8" y="1618.9" font-size="39.5" fill="#303030" stroke="#303030" text-anchor="end">0</text>
<text x="1071.8" y="1505.4" font-size="39.5" fill="#303030" stroke="#303030" text-anchor="end">5</text>
<text x="1071.8" y="1391.9" font-size="39.5" fill="#303030" stroke="#303030" text-anchor="end">10</text>
<text x="1071.8" y="1278.4" font-size="39.5" fill="#303030" stroke="#303030" text-anchor="end">15</text>
<text x="1071.8" y="1164.9" font-size="39.5" fill="#303030" stroke="#303030" text-anchor="end">20</text>
<text x="1071.8" y="1051.4" font-size="39.5" fill="#303030" stroke="#303030" text-anchor="end">25</text>
<text x="1071.8" y="937.9" font-size="39.5" fill="#303030" stroke="#303030" text-anchor="end">30</text>
<text x="1093.8" y="1660.9" font-size="38" fill="#303030" stroke="#303030" text-anchor="middle">1</text>
<text x="1288.2" y="1660.9" font-size="38" fill="#303030" stroke="#303030" text-anchor="middle">10</text>
<text x="1480.5" y="1660.9" font-size="38" fill="#303030" stroke="#303030" text-anchor="middle">100</text>
<text x="1673.0" y="1660.9" font-size="38" fill="#303030" stroke="#303030" text-anchor="middle">1000</text>
<text x="1855.0" y="1663.4" font-size="41" letter-spacing="0.5" font-weight="bold" fill="#111" text-anchor="middle">10,000</text>
<text x="1404.5" y="1713.9" font-size="46" fill="#303030" stroke="#303030"><tspan font-style="italic">d</tspan><tspan font-size="27" dy="16" dx="1">H</tspan><tspan dy="-16"> / nm</tspan></text>
<text transform="translate(1013.8 1267.4) rotate(-90)" font-size="47.8" fill="#303030" stroke="#303030" text-anchor="middle">Volume / %</text>
<text x="1466.7" y="970.9" font-size="47" font-weight="bold" fill="#111" text-anchor="middle">4 h</text>
<text class="let" transform="translate(942.0 975.4) scale(0.968 1)" font-size="89" fill="#000" stroke="#fff" stroke-width="1">D</text>
</g>
<g id="panelE">
<path d="M606.2 2443.8V2436.6M618.4 2437.7V2428.4M630.7 2427.3V2415.9M643.0 2408.4V2393.9M655.2 2378.4V2360.7M667.5 2337.8V2313.8M679.7 2287.9V2261.8M692.0 2219.1V2191.2M704.3 2142.1V2116.3M716.5 2076.5V2049.5M728.8 2048.6V2003.9M741.1 2140.1V2089.0M753.3 2324.2V2295.1M765.6 2428.4V2420.9M777.9 2443.8V2440.9" stroke="#cccccc" stroke-width="3.8" fill="none"/>
<path d="M602.6 2436.6H609.8M614.8 2428.4H622.0M627.1 2415.9H634.3M639.4 2393.9H646.6M651.6 2360.7H658.8M663.9 2313.8H671.1M676.1 2261.8H683.3M688.4 2191.2H695.6M700.7 2116.3H707.9M712.9 2049.5H720.1M725.2 2003.9H732.4M737.5 2089.0H744.7M749.7 2295.1H756.9M762.0 2420.9H769.2M774.3 2440.9H781.5" stroke="#9e9e9e" stroke-width="3.2" fill="none"/>
<path d="M201.8 1766.0H213.8V2462.0M201.8 2447.0H983.4M202.8 2333.5H213.8M202.8 2220.0H213.8M202.8 2106.5H213.8M202.8 1993.0H213.8M202.8 1879.5H213.8" stroke="#969696" stroke-width="5.2" fill="none"/>
<path d="M406.1 2447.0V2462.0M598.5 2447.0V2462.0M791.0 2447.0V2462.0M983.4 2447.0V2462.0" stroke="#686868" stroke-width="3.2" fill="none"/>
<path d="M271.7 2447.0V2453.5M305.5 2447.0V2453.5M329.6 2447.0V2453.5M348.2 2447.0V2453.5M363.5 2447.0V2453.5M376.3 2447.0V2453.5M387.5 2447.0V2453.5M397.3 2447.0V2453.5M464.1 2447.0V2453.5M497.9 2447.0V2453.5M522.0 2447.0V2453.5M540.6 2447.0V2453.5M555.9 2447.0V2453.5M568.7 2447.0V2453.5M579.9 2447.0V2453.5M589.7 2447.0V2453.5M656.5 2447.0V2453.5M690.3 2447.0V2453.5M714.4 2447.0V2453.5M733.0 2447.0V2453.5M748.3 2447.0V2453.5M761.1 2447.0V2453.5M772.3 2447.0V2453.5M782.1 2447.0V2453.5M848.9 2447.0V2453.5M882.7 2447.0V2453.5M906.8 2447.0V2453.5M925.4 2447.0V2453.5M940.7 2447.0V2453.5M953.5 2447.0V2453.5M964.7 2447.0V2453.5M974.5 2447.0V2453.5" stroke="#5a5a5a" stroke-width="3" fill="none"/>
<g fill="#f00000"><rect x="600.8" y="2443.8" width="10.8" height="4.2"/><rect x="613.0" y="2437.7" width="10.8" height="10.3"/><rect x="625.3" y="2427.3" width="10.8" height="20.7"/><rect x="637.6" y="2408.4" width="10.8" height="39.6"/><rect x="649.8" y="2378.4" width="10.8" height="69.6"/><rect x="662.1" y="2337.8" width="10.8" height="110.2"/><rect x="674.3" y="2287.9" width="10.8" height="160.1"/><rect x="686.6" y="2219.1" width="10.8" height="228.9"/><rect x="698.9" y="2142.1" width="10.8" height="305.9"/><rect x="711.1" y="2076.5" width="10.8" height="371.5"/><rect x="723.4" y="2048.6" width="10.8" height="399.4"/><rect x="735.7" y="2140.1" width="10.8" height="307.9"/><rect x="747.9" y="2324.2" width="10.8" height="123.8"/><rect x="760.2" y="2428.4" width="10.8" height="19.6"/><rect x="772.5" y="2443.8" width="10.8" height="4.2"/></g>
<path d="M599.9 2443.8H612.5M612.1 2437.7H624.7M624.4 2427.3H637.0M636.7 2408.4H649.3M648.9 2378.4H661.5M661.2 2337.8H673.8M673.4 2287.9H686.0M685.7 2219.1H698.3M698.0 2142.1H710.6M710.2 2076.5H722.8M722.5 2048.6H735.1M734.8 2140.1H747.4M747.0 2324.2H759.6M759.3 2428.4H771.9M771.6 2443.8H784.2" stroke="#a82020" stroke-width="2.2" fill="none" opacity="0.85"/>
<path d="M600.9 2448.0V2443.8M611.5 2448.0V2443.8M613.1 2448.0V2437.7M623.7 2448.0V2437.7M625.4 2448.0V2427.3M636.0 2448.0V2427.3M637.7 2448.0V2408.4M648.3 2448.0V2408.4M649.9 2448.0V2378.4M660.5 2448.0V2378.4M662.2 2448.0V2337.8M672.8 2448.0V2337.8M674.4 2448.0V2287.9M685.0 2448.0V2287.9M686.7 2448.0V2219.1M697.3 2448.0V2219.1M699.0 2448.0V2142.1M709.6 2448.0V2142.1M711.2 2448.0V2076.5M721.8 2448.0V2076.5M723.5 2448.0V2048.6M734.1 2448.0V2048.6M735.8 2448.0V2140.1M746.4 2448.0V2140.1M748.0 2448.0V2324.2M758.6 2448.0V2324.2M760.3 2448.0V2428.4M770.9 2448.0V2428.4M772.6 2448.0V2443.8M783.2 2448.0V2443.8" stroke="#7e4646" stroke-width="3" fill="none"/>
<path d="M599.8 2447.6H612.6M612.0 2447.6H624.8M624.3 2447.6H637.1M636.6 2447.6H649.4M648.8 2447.6H661.6M661.1 2447.6H673.9M673.3 2447.6H686.1M685.6 2447.6H698.4M697.9 2447.6H710.7M710.1 2447.6H722.9M722.4 2447.6H735.2M734.7 2447.6H747.5M746.9 2447.6H759.7M759.2 2447.6H772.0M771.5 2447.6H784.3" stroke="#5a3030" stroke-width="3.4" fill="none"/>
<path d="M538.5 2447.3H551.3M550.7 2447.3H563.5M563.0 2447.3H575.8M575.2 2447.3H588.0M587.5 2447.3H600.3M783.7 2447.3H796.5" stroke="#3c3434" stroke-width="4.4" fill="none"/>
<text x="191.8" y="2459.0" font-size="39.5" fill="#303030" stroke="#303030" text-anchor="end">0</text>
<text x="191.8" y="2345.5" font-size="39.5" fill="#303030" stroke="#303030" text-anchor="end">5</text>
<text x="191.8" y="2232.0" font-size="39.5" fill="#303030" stroke="#303030" text-anchor="end">10</text>
<text x="191.8" y="2118.5" font-size="39.5" fill="#303030" stroke="#303030" text-anchor="end">15</text>
<text x="191.8" y="2005.0" font-size="39.5" fill="#303030" stroke="#303030" text-anchor="end">20</text>
<text x="191.8" y="1891.5" font-size="39.5" fill="#303030" stroke="#303030" text-anchor="end">25</text>
<text x="191.8" y="1778.0" font-size="39.5" fill="#303030" stroke="#303030" text-anchor="end">30</text>
<text x="213.8" y="2501.0" font-size="38" fill="#303030" stroke="#303030" text-anchor="middle">1</text>
<text x="408.1" y="2501.0" font-size="38" fill="#303030" stroke="#303030" text-anchor="middle">10</text>
<text x="600.5" y="2501.0" font-size="38" fill="#303030" stroke="#303030" text-anchor="middle">100</text>
<text x="793.0" y="2501.0" font-size="38" fill="#303030" stroke="#303030" text-anchor="middle">1000</text>
<text x="984.8" y="2503.5" font-size="41" letter-spacing="0.5" font-weight="bold" fill="#111" text-anchor="middle">10,000</text>
<text x="524.5" y="2554.0" font-size="46" fill="#303030" stroke="#303030"><tspan font-style="italic">d</tspan><tspan font-size="27" dy="16" dx="1">H</tspan><tspan dy="-16"> / nm</tspan></text>
<text transform="translate(133.8 2107.5) rotate(-90)" font-size="47.8" fill="#303030" stroke="#303030" text-anchor="middle">Volume / %</text>
<text x="598.0" y="1809.5" font-size="47" font-weight="bold" fill="#111" text-anchor="middle">24 h</text>
<text class="let" transform="translate(66.0 1815.8) scale(0.968 1)" font-size="89" fill="#000" stroke="#fff" stroke-width="1">E</text>
</g>
<g id="panelF">
<path d="M1498.4 2443.6V2442.5M1510.7 2434.7V2429.5M1523.0 2415.2V2408.9M1535.2 2388.2V2378.4M1547.5 2349.2V2332.8M1559.7 2290.4V2269.9M1572.0 2215.5V2190.5M1584.3 2128.7V2108.1M1596.5 2053.8V2035.4M1608.8 2026.6V1982.1M1621.1 2126.5V2070.2M1633.3 2320.8V2289.5M1645.6 2428.4V2419.5M1657.9 2443.6V2440.2" stroke="#cccccc" stroke-width="3.8" fill="none"/>
<path d="M1494.8 2442.5H1502.0M1507.1 2429.5H1514.3M1519.4 2408.9H1526.6M1531.6 2378.4H1538.8M1543.9 2332.8H1551.1M1556.1 2269.9H1563.3M1568.4 2190.5H1575.6M1580.7 2108.1H1587.9M1592.9 2035.4H1600.1M1605.2 1982.1H1612.4M1617.5 2070.2H1624.7M1629.7 2289.5H1636.9M1642.0 2419.5H1649.2M1654.3 2440.2H1661.5" stroke="#9e9e9e" stroke-width="3.2" fill="none"/>
<path d="M1081.8 1766.0H1093.8V2462.0M1081.8 2447.0H1863.3M1082.8 2333.5H1093.8M1082.8 2220.0H1093.8M1082.8 2106.5H1093.8M1082.8 1993.0H1093.8M1082.8 1879.5H1093.8" stroke="#969696" stroke-width="5.2" fill="none"/>
<path d="M1286.2 2447.0V2462.0M1478.5 2447.0V2462.0M1671.0 2447.0V2462.0M1863.3 2447.0V2462.0" stroke="#686868" stroke-width="3.2" fill="none"/>
<path d="M1151.7 2447.0V2453.5M1185.5 2447.0V2453.5M1209.6 2447.0V2453.5M1228.2 2447.0V2453.5M1243.5 2447.0V2453.5M1256.3 2447.0V2453.5M1267.5 2447.0V2453.5M1277.3 2447.0V2453.5M1344.1 2447.0V2453.5M1377.9 2447.0V2453.5M1402.0 2447.0V2453.5M1420.6 2447.0V2453.5M1435.9 2447.0V2453.5M1448.7 2447.0V2453.5M1459.9 2447.0V2453.5M1469.7 2447.0V2453.5M1536.5 2447.0V2453.5M1570.3 2447.0V2453.5M1594.4 2447.0V2453.5M1613.0 2447.0V2453.5M1628.3 2447.0V2453.5M1641.1 2447.0V2453.5M1652.3 2447.0V2453.5M1662.1 2447.0V2453.5M1728.9 2447.0V2453.5M1762.7 2447.0V2453.5M1786.8 2447.0V2453.5M1805.4 2447.0V2453.5M1820.7 2447.0V2453.5M1833.5 2447.0V2453.5M1844.7 2447.0V2453.5M1854.5 2447.0V2453.5" stroke="#5a5a5a" stroke-width="3" fill="none"/>
<g fill="#f00000"><rect x="1493.0" y="2443.6" width="10.8" height="4.4"/><rect x="1505.3" y="2434.7" width="10.8" height="13.3"/><rect x="1517.6" y="2415.2" width="10.8" height="32.8"/><rect x="1529.8" y="2388.2" width="10.8" height="59.8"/><rect x="1542.1" y="2349.2" width="10.8" height="98.8"/><rect x="1554.3" y="2290.4" width="10.8" height="157.6"/><rect x="1566.6" y="2215.5" width="10.8" height="232.5"/><rect x="1578.9" y="2128.7" width="10.8" height="319.3"/><rect x="1591.1" y="2053.8" width="10.8" height="394.2"/><rect x="1603.4" y="2026.6" width="10.8" height="421.4"/><rect x="1615.7" y="2126.5" width="10.8" height="321.5"/><rect x="1627.9" y="2320.8" width="10.8" height="127.2"/><rect x="1640.2" y="2428.4" width="10.8" height="19.6"/><rect x="1652.5" y="2443.6" width="10.8" height="4.4"/></g>
<path d="M1492.1 2443.6H1504.7M1504.4 2434.7H1517.0M1516.7 2415.2H1529.3M1528.9 2388.2H1541.5M1541.2 2349.2H1553.8M1553.4 2290.4H1566.0M1565.7 2215.5H1578.3M1578.0 2128.7H1590.6M1590.2 2053.8H1602.8M1602.5 2026.6H1615.1M1614.8 2126.5H1627.4M1627.0 2320.8H1639.6M1639.3 2428.4H1651.9M1651.6 2443.6H1664.2" stroke="#a82020" stroke-width="2.2" fill="none" opacity="0.85"/>
<path d="M1493.1 2448.0V2443.6M1503.7 2448.0V2443.6M1505.4 2448.0V2434.7M1516.0 2448.0V2434.7M1517.7 2448.0V2415.2M1528.3 2448.0V2415.2M1529.9 2448.0V2388.2M1540.5 2448.0V2388.2M1542.2 2448.0V2349.2M1552.8 2448.0V2349.2M1554.4 2448.0V2290.4M1565.0 2448.0V2290.4M1566.7 2448.0V2215.5M1577.3 2448.0V2215.5M1579.0 2448.0V2128.7M1589.6 2448.0V2128.7M1591.2 2448.0V2053.8M1601.8 2448.0V2053.8M1603.5 2448.0V2026.6M1614.1 2448.0V2026.6M1615.8 2448.0V2126.5M1626.4 2448.0V2126.5M1628.0 2448.0V2320.8M1638.6 2448.0V2320.8M1640.3 2448.0V2428.4M1650.9 2448.0V2428.4M1652.6 2448.0V2443.6M1663.2 2448.0V2443.6" stroke="#7e4646" stroke-width="3" fill="none"/>
<path d="M1492.0 2447.6H1504.8M1504.3 2447.6H1517.1M1516.6 2447.6H1529.4M1528.8 2447.6H1541.6M1541.1 2447.6H1553.9M1553.3 2447.6H1566.1M1565.6 2447.6H1578.4M1577.9 2447.6H1590.7M1590.1 2447.6H1602.9M1602.4 2447.6H1615.2M1614.7 2447.6H1627.5M1626.9 2447.6H1639.7M1639.2 2447.6H1652.0M1651.5 2447.6H1664.3" stroke="#5a3030" stroke-width="3.4" fill="none"/>
<path d="M1430.7 2447.3H1443.5M1443.0 2447.3H1455.8M1455.2 2447.3H1468.0M1467.5 2447.3H1480.3M1479.8 2447.3H1492.6M1663.7 2447.3H1676.5" stroke="#3c3434" stroke-width="4.4" fill="none"/>
<text x="1071.8" y="2459.0" font-size="39.5" fill="#303030" stroke="#303030" text-anchor="end">0</text>
<text x="1071.8" y="2345.5" font-size="39.5" fill="#303030" stroke="#303030" text-anchor="end">5</text>
<text x="1071.8" y="2232.0" font-size="39.5" fill="#303030" stroke="#303030" text-anchor="end">10</text>
<text x="1071.8" y="2118.5" font-size="39.5" fill="#303030" stroke="#303030" text-anchor="end">15</text>
<text x="1071.8" y="2005.0" font-size="39.5" fill="#303030" stroke="#303030" text-anchor="end">20</text>
<text x="1071.8" y="1891.5" font-size="39.5" fill="#303030" stroke="#303030" text-anchor="end">25</text>
<text x="1071.8" y="1778.0" font-size="39.5" fill="#303030" stroke="#303030" text-anchor="end">30</text>
<text x="1093.8" y="2501.0" font-size="38" fill="#303030" stroke="#303030" text-anchor="middle">1</text>
<text x="1288.2" y="2501.0" font-size="38" fill="#303030" stroke="#303030" text-anchor="middle">10</text>
<text x="1480.5" y="2501.0" font-size="38" fill="#303030" stroke="#303030" text-anchor="middle">100</text>
<text x="1673.0" y="2501.0" font-size="38" fill="#303030" stroke="#303030" text-anchor="middle">1000</text>
<text x="1855.0" y="2503.5" font-size="41" letter-spacing="0.5" font-weight="bold" fill="#111" text-anchor="middle">10,000</text>
<text x="1404.5" y="2554.0" font-size="46" fill="#303030" stroke="#303030"><tspan font-style="italic">d</tspan><tspan font-size="27" dy="16" dx="1">H</tspan><tspan dy="-16"> / nm</tspan></text>
<text transform="translate(1013.8 2107.5) rotate(-90)" font-size="47.8" fill="#303030" stroke="#303030" text-anchor="middle">Volume / %</text>
<text x="1478.3" y="1809.5" font-size="47" font-weight="bold" fill="#111" text-anchor="middle">48 h</text>
<text class="let" transform="translate(944.0 1815.8) scale(0.968 1)" font-size="89" fill="#000" stroke="#fff" stroke-width="1">F</text>
</g>
</g></svg>
</body></html>
